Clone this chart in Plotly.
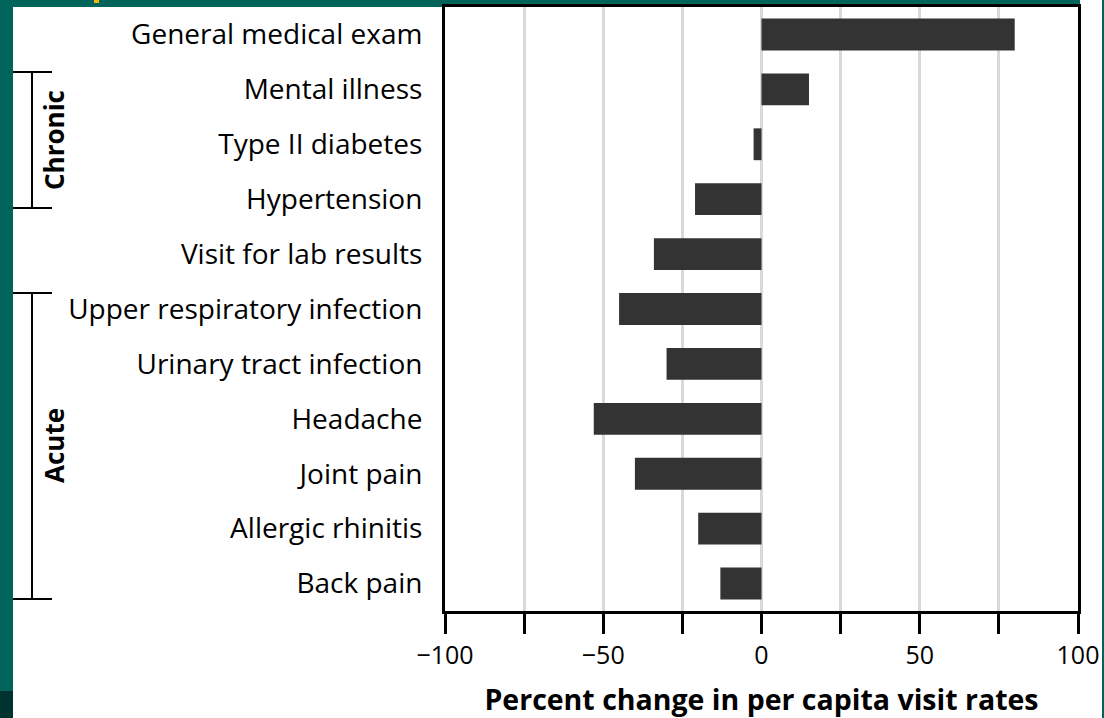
import plotly.graph_objects as go

# Visit categories, top to bottom
categories = [
    "General medical exam",
    "Mental illness",
    "Type II diabetes",
    "Hypertension",
    "Visit for lab results",
    "Upper respiratory infection",
    "Urinary tract infection",
    "Headache",
    "Joint pain",
    "Allergic rhinitis",
    "Back pain",
]
# Percent change in per capita visit rates
pct_change = [80, 15, -2.5, -21, -34, -45, -30, -53, -40, -20, -13]

tick_vals = [-100, -75, -50, -25, 0, 25, 50, 75, 100]
tick_text = ["\u2212100", "", "\u221250", "", "0", "", "50", "", "100"]

W, H = 1104, 718
L, R, T, B = 445, 1078, 7, 611  # plot area in pixels
TEAL = "#00645a"
FONT = "Open Sans, Noto Sans, sans-serif"


def px(x):
    return (x - L) / (R - L)


def py(y):
    return (B - y) / (B - T)


fig = go.Figure(
    go.Bar(
        x=pct_change,
        y=categories,
        orientation="h",
        width=0.58,
        marker=dict(color="#333333", line=dict(width=0)),
    )
)

shapes = [
    # white sheet over teal frame
    dict(type="rect", xref="paper", yref="paper", x0=px(13), x1=px(1102),
         y0=py(718), y1=py(7), fillcolor="white", line_width=0, layer="below"),
    dict(type="rect", xref="paper", yref="paper", x0=px(1080), x1=px(1102),
         y0=py(7), y1=py(0), fillcolor="white", line_width=0, layer="below"),
    dict(type="rect", xref="paper", yref="paper", x0=px(0), x1=px(13),
         y0=py(718), y1=py(691), fillcolor="#00332f", line_width=0, layer="below"),
    dict(type="rect", xref="paper", yref="paper", x0=px(94), x1=px(99),
         y0=py(3), y1=py(0), fillcolor="#f2b705", line_width=0, layer="below"),
]

# group brackets: (label, top px, bottom px)
brackets = [("Chronic", 72, 208), ("Acute", 293, 599)]
annotations = []
for name, top, bot in brackets:
    line = dict(color="black", width=2)
    shapes.append(dict(type="line", xref="paper", yref="paper",
                       x0=px(32), x1=px(32), y0=py(top), y1=py(bot), line=line))
    for yy in (top, bot):
        shapes.append(dict(type="line", xref="paper", yref="paper",
                           x0=px(13), x1=px(52), y0=py(yy), y1=py(yy), line=line))
    annotations.append(dict(
        text=f"<b>{name}</b>", xref="paper", yref="paper",
        x=px(54), y=py((top + bot) / 2), textangle=-90, showarrow=False,
        xanchor="center", yanchor="middle",
        font=dict(family=FONT, size=26, color="black"),
    ))

fig.update_layout(
    width=W,
    height=H,
    margin=dict(l=L, r=W - R, t=T, b=H - B, pad=0, autoexpand=False),
    paper_bgcolor=TEAL,
    plot_bgcolor="white",
    showlegend=False,
    shapes=shapes,
    annotations=annotations,
    font=dict(family=FONT, size=26, color="black"),
)

fig.update_xaxes(
    range=[-100, 100],
    automargin=False,
    tickmode="array",
    tickvals=tick_vals,
    ticktext=tick_text,
    ticks="outside",
    ticklen=20,
    tickwidth=2.5,
    tickcolor="black",
    showline=True,
    linewidth=3,
    linecolor="black",
    mirror=True,
    showgrid=True,
    gridcolor="#d9d9d9",
    gridwidth=3,
    zeroline=False,
    tickfont=dict(family=FONT, size=25, color="black"),
    title=dict(text="<b>Percent change in per capita visit rates</b>",
               font=dict(family=FONT, size=28.5, color="black"), standoff=28),
)

fig.update_yaxes(
    categoryorder="array",
    categoryarray=categories,
    autorange="reversed",
    automargin=False,
    showline=True,
    linewidth=3,
    linecolor="black",
    mirror=True,
    showgrid=False,
    ticks="",
    ticklabelstandoff=14,
    tickfont=dict(family=FONT, size=28, color="black"),
)

fig.write_html("out.html")
